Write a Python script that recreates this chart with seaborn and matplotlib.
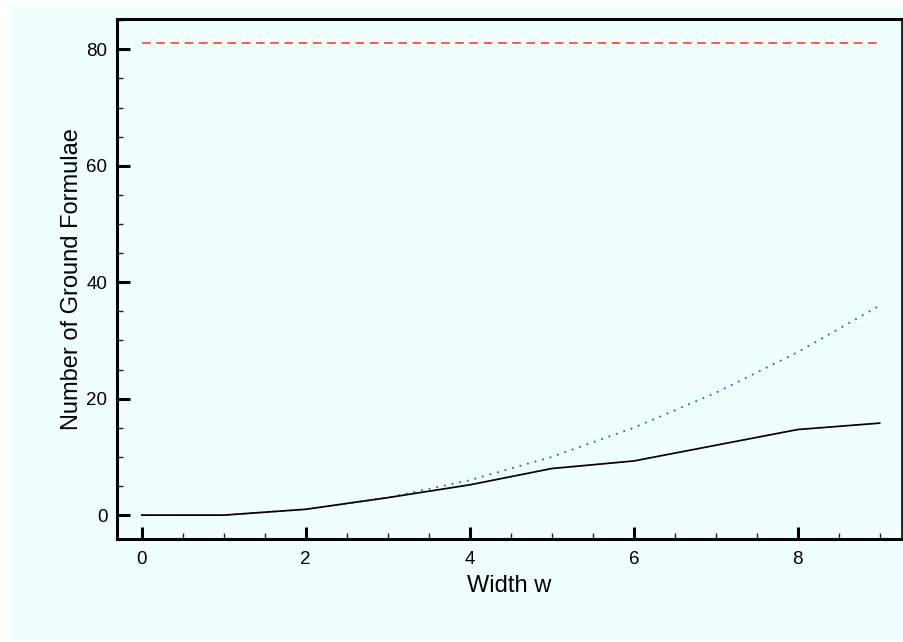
import numpy as np
import pandas as pd
import matplotlib
matplotlib.use("Agg")
import matplotlib.pyplot as plt
import seaborn as sns
from matplotlib.patches import Rectangle
from matplotlib.ticker import MultipleLocator

# Width values and ground-formula counts
width = [0, 1, 2, 3, 4, 5, 6, 7, 8, 9]
actual_counts = [0, 0, 1, 3, 5.2, 8, 9.3, 12, 14.7, 15.8]
pair_bound = [0, 0, 1, 3, 6, 10, 15, 21, 28, 36]
square_bound = [81, 81, 81, 81, 81, 81, 81, 81, 81, 81]

sns.set_theme(style="white")
plt.rcParams["font.family"] = ["Liberation Sans", "DejaVu Sans"]

df = pd.DataFrame({
    "w": width * 3,
    "count": actual_counts + pair_bound + square_bound,
    "series": ["actual"] * len(width) + ["pairs"] * len(width) + ["square"] * len(width),
})

fig = plt.figure(figsize=(9.04, 6.42), dpi=100)
fig.patch.set_facecolor("white")
fig.patches.append(Rectangle((10 / 904, 2 / 642), 1 - 10 / 904, 1 - 8 / 642,
                             transform=fig.transFigure, facecolor="#f0ffff",
                             edgecolor="none", zorder=-10))

ax = fig.add_axes([117 / 904, (642 - 539) / 642, (902 - 117) / 904, (539 - 19) / 642])
ax.set_facecolor("#f0ffff")

palette = {"actual": "black", "pairs": "#2a45ff", "square": "#ff4a2a"}
dashes = {"actual": "", "pairs": (1, 3.5), "square": (5, 3.2)}
sns.lineplot(data=df, x="w", y="count", hue="series", style="series",
             palette=palette, dashes=dashes, linewidth=1.25, ax=ax, legend=False)
# keep the solid curve on top
for line in ax.get_lines():
    if line.get_color() == "black":
        line.set_zorder(5)

ax.set_xlim(-0.3, 9.27)
ax.set_ylim(-4.1, 85.2)
ax.xaxis.set_major_locator(MultipleLocator(2))
ax.xaxis.set_minor_locator(MultipleLocator(0.5))
ax.yaxis.set_major_locator(MultipleLocator(20))
ax.yaxis.set_minor_locator(MultipleLocator(5))

ax.tick_params(axis="both", which="major", direction="in", length=9, width=2.2,
               labelsize=13.5, color="black", labelcolor="black", pad=7,
               bottom=True, left=True, top=False, right=False)
ax.tick_params(axis="x", which="major", pad=9)
ax.tick_params(axis="both", which="minor", direction="in", length=4.5, width=1,
               color="#222222", bottom=True, left=True, top=False, right=False)

for side in ["top", "left", "bottom"]:
    ax.spines[side].set_linewidth(2.2)
    ax.spines[side].set_color("black")
ax.spines["right"].set_linewidth(1.2)
ax.spines["right"].set_color("black")

ax.set_xlabel("Width w", fontsize=17, color="black", labelpad=5)
ax.set_ylabel("Number of Ground Formulae", fontsize=17, color="black", labelpad=2)

fig.savefig("out.png", dpi=100, facecolor=fig.get_facecolor())
